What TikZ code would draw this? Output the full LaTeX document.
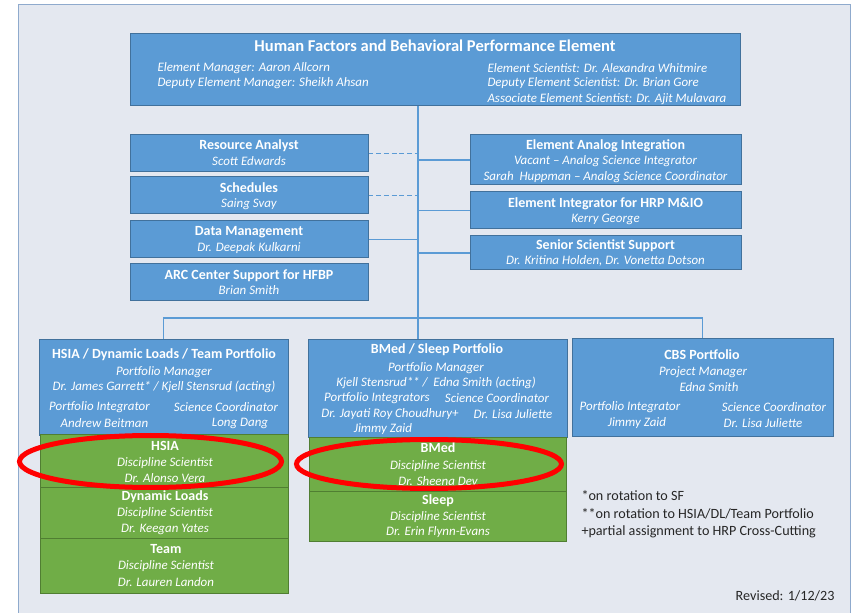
\documentclass[tikz,border=0pt]{standalone}
\usepackage{fontspec}
\setmainfont{Carlito}

\tikzset{every picture/.style={line width=0.75pt}}
\tikzset{
  bsize/.style 2 args={minimum width=#1*0.75pt, minimum height=#2*0.75pt},
  bluebox/.style={draw={rgb, 255:red, 65; green, 113; blue, 156}, fill={rgb, 255:red, 91; green, 155; blue, 213}, inner sep=0pt},
  greenbox/.style={draw={rgb, 255:red, 80; green, 126; blue, 50}, fill={rgb, 255:red, 112; green, 173; blue, 71}, inner sep=0pt},
  conn/.style={draw={rgb, 255:red, 91; green, 155; blue, 213}, line width=1.3pt},
  dconn/.style={conn, dash pattern=on 3.6pt off 2.2pt},
  bigttl/.style={text=white, inner sep=0pt, font=\fontsize{12.4}{14}\selectfont\bfseries},
  ttl/.style={text=white, inner sep=0pt, font=\fontsize{10.5}{12}\selectfont\bfseries},
  itx/.style={text=white, inner sep=0pt, font=\fontsize{9.7}{11}\selectfont\itshape},
  note/.style={text={rgb, 255:red, 38; green, 38; blue, 38}, inner sep=0pt, font=\fontsize{10.6}{12}\selectfont},
  ring/.style={draw={rgb, 255:red, 255; green, 0; blue, 0}, line width=3.75pt}
}

\begin{document}
\begin{tikzpicture}[x=0.75pt,y=0.75pt,yscale=-1,xscale=1]
\useasboundingbox (0,0) rectangle (851,613);

%Shape: Rectangle [id:frame]
\draw [draw={rgb, 255:red, 143; green, 170; blue, 205}, fill={rgb, 255:red, 228; green, 232; blue, 240}] (18,5) rectangle (850,630);

%Shapes: Boxes
\node [bluebox, bsize={610}{72}] (hfbp) at (435,70) {};
\node [bluebox, bsize={238}{37}] (ra) at (249,153.5) {};
\node [bluebox, bsize={238}{37}] (sch) at (249,195.5) {};
\node [bluebox, bsize={238}{37}] (dm) at (249,239.5) {};
\node [bluebox, bsize={238}{37}] (arc) at (249,282.5) {};
\node [bluebox, bsize={271}{50}] (eai) at (605.5,160) {};
\node [bluebox, bsize={271}{37}] (ei) at (605.5,210.5) {};
\node [bluebox, bsize={271}{34}] (sss) at (605.5,253) {};
\node [bluebox, bsize={249}{96}] (hsia) at (163.5,388) {};
\node [bluebox, bsize={259}{98}] (bmed) at (437.5,389) {};
\node [bluebox, bsize={261}{98}] (cbs) at (702.5,388) {};

%Straight Lines
\coordinate (bar) at (418,318);
\draw [conn] (hfbp.south -| bar) -- (bmed.north -| bar);
\draw [conn] (hsia.north) -- (hsia.north |- bar) -- (cbs.north |- bar) -- (cbs.north);
\draw [dconn] (ra.east) -- (ra.east -| bar);
\draw [dconn] (sch.east) -- (sch.east -| bar);
\draw [conn] (dm.east) -- (dm.east -| bar);
\draw [conn] (eai.west) -- (eai.west -| bar);
\draw [conn] (ei.west) -- (ei.west -| bar);
\draw [conn] (sss.west) -- (sss.west -| bar);

% Text Node
\node [bigttl] (hfbpT) at (435,45.5) {Human Factors and Behavioral Performance Element};
\node [itx, anchor=west] (hfbpA) at (157,68) {Element Manager: Aaron Allcorn};
\node [itx, anchor=west] (hfbpB) at (157,83) {Deputy Element Manager: Sheikh Ahsan};
\node [itx, anchor=west] (hfbpC) at (487,68) {Element Scientist: Dr. Alexandra Whitmire};
\node [itx, anchor=west] (hfbpD) at (487,83) {Deputy Element Scientist: Dr. Brian Gore};
\node [itx, anchor=west] (hfbpE) at (487,99) {Associate Element Scientist: Dr. Ajit Mulavara};
% Text Node
\node [ttl] (raT) at (249,146) {Resource Analyst};
\node [itx] (raA) at (249,161) {Scott Edwards};
\node [ttl] (schT) at (249,188) {Schedules};
\node [itx] (schA) at (249,204) {Saing Svay};
\node [ttl] (dmT) at (249,232.5) {Data Management};
\node [itx] (dmA) at (249,248) {Dr. Deepak Kulkarni};
\node [ttl] (arcT) at (249,275.5) {ARC Center Support for HFBP};
\node [itx] (arcA) at (249,290.5) {Brian Smith};
% Text Node
\node [ttl] (eaiT) at (605.5,146) {Element Analog Integration};
\node [itx] (eaiA) at (605.5,161) {Vacant -- Analog Science Integrator};
\node [itx] (eaiB) at (605.5,177) {Sarah\ \ Huppman -- Analog Science Coordinator};
\node [ttl] (eiT) at (605.5,203.5) {Element Integrator for HRP M\&IO};
\node [itx] (eiA) at (605.5,219) {Kerry George};
\node [ttl] (sssT) at (605.5,245.5) {Senior Scientist Support};
\node [itx] (sssA) at (605.5,261) {Dr. Kritina Holden, Dr. Vonetta Dotson};

% Text Node
\node [ttl] (hsiaT) at (164,355) {HSIA / Dynamic Loads / Team Portfolio};
\node [itx] (hsiaA) at (164,372) {Portfolio Manager};
\node [itx] (hsiaB) at (164,387) {Dr. James Garrett* / Kjell Stensrud (acting)};
\node [itx] (hsiaC) at (99.5,407) {Portfolio Integrator};
\node [itx] (hsiaD) at (226,407) {Science Coordinator};
\node [itx] (hsiaE) at (104.5,423) {Andrew Beitman};
\node [itx] (hsiaF) at (240,423) {Long Dang};
% Text Node
\node [ttl] (bmedT) at (437,350) {BMed / Sleep Portfolio};
\node [itx] (bmedA) at (436,368) {Portfolio Manager};
\node [itx] (bmedB) at (436,383) {Kjell Stensrud** /\ \ Edna Smith (acting)};
\node [itx] (bmedC) at (377,398) {Portfolio Integrators};
\node [itx] (bmedD) at (497,398) {Science Coordinator};
\node [itx] (bmedE) at (390,414) {Dr. Jayati Roy Choudhury+};
\node [itx] (bmedF) at (513,414) {Dr. Lisa Juliette};
\node [itx] (bmedG) at (383,429) {Jimmy Zaid};
% Text Node
\node [ttl] (cbsT) at (702,355) {CBS Portfolio};
\node [itx] (cbsA) at (703,372) {Project Manager};
\node [itx] (cbsB) at (709,387) {Edna Smith};
\node [itx] (cbsC) at (630,407) {Portfolio Integrator};
\node [itx] (cbsD) at (774,407) {Science Coordinator};
\node [itx] (cbsE) at (637,423) {Jimmy Zaid};
\node [itx] (cbsF) at (763,423) {Dr. Lisa Juliette};

%Shapes: Discipline boxes
\node [greenbox, bsize={248}{52}] (hsiaD1) at (164,461) {};
\node [greenbox, bsize={248}{51}] (hsiaD2) at (164,512.5) {};
\node [greenbox, bsize={248}{55}] (hsiaD3) at (164,565.5) {};
\node [greenbox, bsize={257}{53}] (bmedD1) at (437.5,464.5) {};
\node [greenbox, bsize={257}{50}] (bmedD2) at (437.5,516) {};

% Text Node
\node [ttl] (d1T) at (165,446) {HSIA};
\node [itx] (d1A) at (165,463) {Discipline Scientist};
\node [itx] (d1B) at (165,478) {Dr. Alonso Vera};
\node [ttl] (d2T) at (165,497) {Dynamic Loads};
\node [itx] (d2A) at (165,513) {Discipline Scientist};
\node [itx] (d2B) at (165,529) {Dr. Keegan Yates};
\node [ttl] (d3T) at (166,549) {Team};
\node [itx] (d3A) at (166,566) {Discipline Scientist};
\node [itx] (d3B) at (166,582) {Dr. Lauren Landon};
\node [ttl] (d4T) at (438,448) {BMed};
\node [itx] (d4A) at (438,466) {Discipline Scientist};
\node [itx] (d4B) at (438,481) {Dr. Sheena Dev};
\node [ttl] (d5T) at (438,501) {Sleep};
\node [itx] (d5A) at (438,517) {Discipline Scientist};
\node [itx] (d5B) at (438,532) {Dr. Erin Flynn-Evans};

%Shape: Ellipse
\draw [ring] (150.5,461.5) circle [x radius=131, y radius=26];
\draw [ring] (429,464) circle [x radius=132.5, y radius=24.5];

% Text Node
\node [note, anchor=west] (fn1) at (581,496) {*on rotation to SF};
\node [note, anchor=west] (fn2) at (581,514) {**on rotation to HSIA/DL/Team Portfolio};
\node [note, anchor=west] (fn3) at (581,532) {+partial assignment to HRP Cross-Cutting};
\node [note, anchor=east] (rev) at (835,596) {Revised: 1/12/23};

\end{tikzpicture}
\end{document}
